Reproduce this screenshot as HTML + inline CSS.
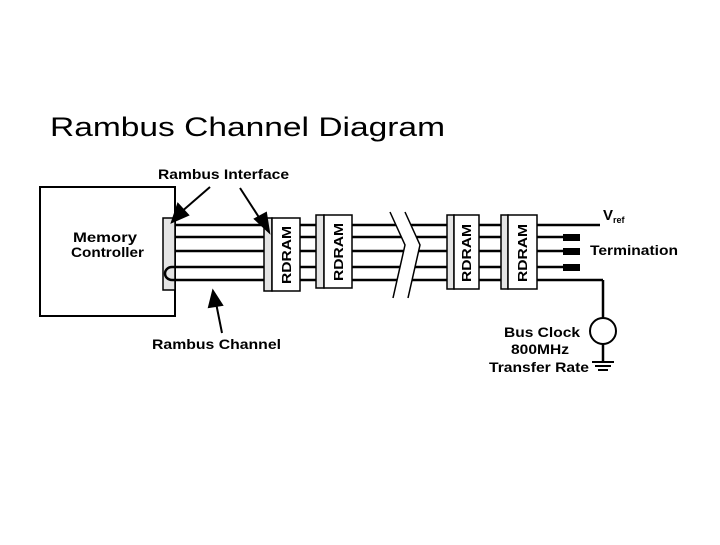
<!DOCTYPE html>
<html><head><style>
body{margin:0;background:#fff;}
svg text{font-family:"Liberation Sans",Arial,sans-serif;}
</style></head><body>
<svg width="720" height="540" viewBox="0 0 720 540" xmlns="http://www.w3.org/2000/svg">
<text x="50" y="136" font-size="27" fill="#000" textLength="395" lengthAdjust="spacingAndGlyphs">Rambus Channel Diagram</text>
<g stroke="#000" fill="none">
<rect x="40" y="187" width="135" height="129" stroke-width="2"/>
<rect x="163" y="218" width="12" height="72" fill="#e4e4e4" stroke-width="1.5"/>
<g stroke-width="2.5">
<line x1="175" y1="225" x2="600" y2="225"/>
<line x1="175" y1="237" x2="565" y2="237"/>
<line x1="175" y1="251" x2="565" y2="251"/>
<line x1="172" y1="267" x2="565" y2="267"/>
<line x1="172" y1="280" x2="603" y2="280"/>
<path d="M172 267 A7 6.5 0 0 0 172 280"/>
<line x1="603" y1="280" x2="603" y2="318"/>
<line x1="603" y1="344" x2="603" y2="362"/>
</g>
<circle cx="603" cy="331" r="13" stroke-width="2"/>
<line x1="592" y1="362" x2="614" y2="362" stroke-width="2"/>
<line x1="595" y1="366" x2="611" y2="366" stroke-width="2"/>
<line x1="598" y1="370" x2="608" y2="370" stroke-width="2"/>
</g>
<polygon points="390,212 405,212 420,245 408,298 393,298 405,245" fill="#fff"/>
<path d="M390 212 L405 245 L393 298 M405 212 L420 245 L408 298" stroke="#000" stroke-width="1.5" fill="none"/>
<g stroke="#000" stroke-width="1.5">
<rect x="264" y="218" width="8" height="73" fill="#e4e4e4"/><rect x="272" y="218" width="28" height="73" fill="#fff"/>
<rect x="316" y="215" width="8" height="73" fill="#e4e4e4"/><rect x="324" y="215" width="28" height="73" fill="#fff"/>
<rect x="447" y="215" width="7" height="74" fill="#e4e4e4"/><rect x="454" y="215" width="25" height="74" fill="#fff"/>
<rect x="501" y="215" width="7" height="74" fill="#e4e4e4"/><rect x="508" y="215" width="29" height="74" fill="#fff"/>
</g>
<g font-size="13" font-weight="bold" fill="#000">
<text transform="translate(291,284) rotate(-90)" textLength="58" lengthAdjust="spacingAndGlyphs">RDRAM</text>
<text transform="translate(343,281) rotate(-90)" textLength="58" lengthAdjust="spacingAndGlyphs">RDRAM</text>
<text transform="translate(471,282) rotate(-90)" textLength="58" lengthAdjust="spacingAndGlyphs">RDRAM</text>
<text transform="translate(527,282) rotate(-90)" textLength="58" lengthAdjust="spacingAndGlyphs">RDRAM</text>
</g>
<rect x="563" y="234" width="17" height="7" fill="#000"/>
<rect x="563" y="248" width="17" height="7" fill="#000"/>
<rect x="563" y="264" width="17" height="7" fill="#000"/>
<g stroke="#000" stroke-width="2" fill="#000">
<line x1="210" y1="187" x2="180" y2="213"/>
<polygon points="172,222 178,204 188,215"/>
<line x1="240" y1="188" x2="262" y2="222"/>
<polygon points="269,232 255,219 266,213"/>
<line x1="222" y1="333" x2="216" y2="303"/>
<polygon points="213,291 209,307 222,305"/>
</g>
<g font-size="14" font-weight="bold" fill="#000" lengthAdjust="spacingAndGlyphs">
<text x="158" y="179" textLength="131" lengthAdjust="spacingAndGlyphs">Rambus Interface</text>
<text x="73" y="242" textLength="64" lengthAdjust="spacingAndGlyphs">Memory</text>
<text x="71" y="257" textLength="73" lengthAdjust="spacingAndGlyphs">Controller</text>
<text x="152" y="349" textLength="129" lengthAdjust="spacingAndGlyphs">Rambus Channel</text>
<text x="603" y="220" font-size="15">V<tspan font-size="9" dy="3">ref</tspan></text>
<text x="590" y="255" textLength="88" lengthAdjust="spacingAndGlyphs">Termination</text>
<text x="504" y="337" textLength="76" lengthAdjust="spacingAndGlyphs">Bus Clock</text>
<text x="511" y="354" textLength="58" lengthAdjust="spacingAndGlyphs">800MHz</text>
<text x="489" y="372" textLength="100" lengthAdjust="spacingAndGlyphs">Transfer Rate</text>
</g>
</svg>
</body></html>
